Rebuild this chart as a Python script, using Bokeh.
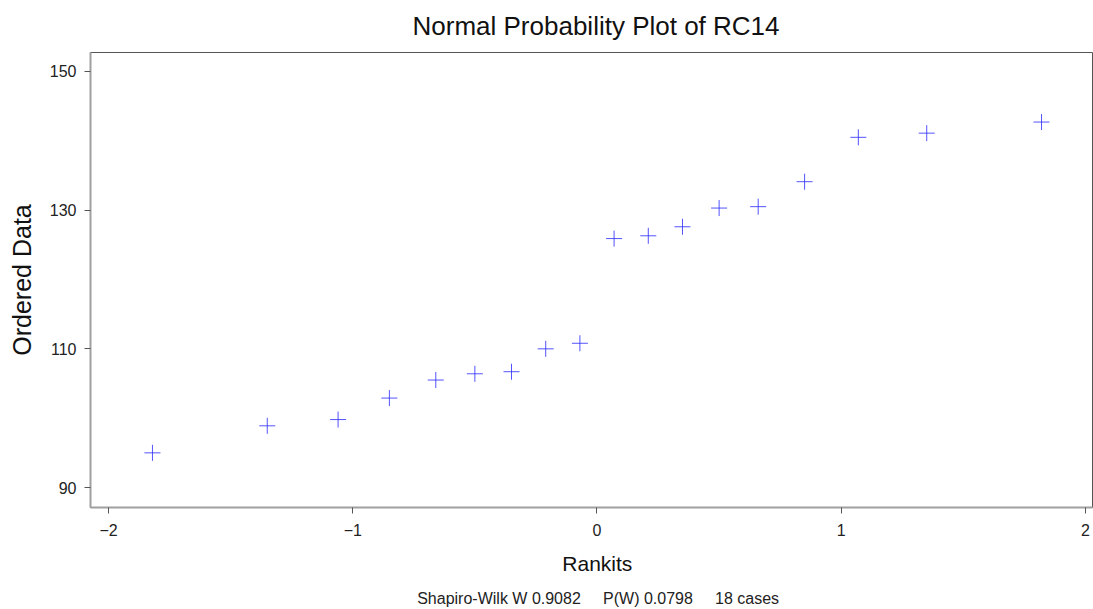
from bokeh.plotting import figure
from bokeh.models import FixedTicker, Range1d, Title, LinearAxis
from bokeh.embed import file_html
from bokeh.resources import INLINE

rankits = [-1.82, -1.35, -1.06, -0.85, -0.66, -0.50, -0.35, -0.21, -0.07,
           0.07, 0.21, 0.35, 0.50, 0.66, 0.85, 1.07, 1.35, 1.82]
ordered = [95.0, 98.9, 99.8, 102.9, 105.5, 106.4, 106.7, 110.0, 110.8,
           125.9, 126.3, 127.6, 130.3, 130.5, 134.1, 140.5, 141.1, 142.7]
x_ticks = [-2, -1, 0, 1, 2]
y_ticks = [90, 110, 130, 150]
title_text = "Normal Probability Plot of RC14"
x_label = "Rankits"
y_label = "Ordered Data"
NB = "\u00a0"
footer_text = ("Shapiro-Wilk W 0.9082" + NB * 5 + "P(W) 0.0798" + NB * 5 + "18 cases")

FONT = "Liberation Sans"

p = figure(width=1093, height=609, output_backend="svg", toolbar_location=None,
           x_range=Range1d(-2.0737, 2.0287), y_range=Range1d(87.12, 152.73),
           min_border_left=90, min_border_right=1, min_border_top=52,
           min_border_bottom=101)

p.title.text = title_text
p.title.align = "left"
p.title.offset = 322
p.title.text_font = FONT
p.title.text_font_size = "26px"
p.title.text_font_style = "normal"
p.title.text_color = "#111111"
p.title.standoff = 15

# thin spacer between title and frame
p.add_layout(Title(text=NB, text_font_size="2px", standoff=0), "above")

p.grid.visible = False
p.outline_line_color = "#555555"
p.outline_line_width = 1
p.background_fill_color = "white"
p.border_fill_color = "white"

for ax in (p.xaxis[0], p.yaxis[0]):
    ax.axis_line_color = "#a0a0a0"
    ax.axis_line_width = 2
    ax.major_tick_line_color = "#555555"
    ax.major_tick_out = 6
    ax.major_tick_in = 0
    ax.minor_tick_line_color = None
    ax.major_label_text_font = FONT
    ax.major_label_text_font_size = "16px"
    ax.major_label_text_color = "#222222"
    ax.axis_label_text_font = FONT
    ax.axis_label_text_font_style = "normal"
    ax.axis_label_text_color = "#111111"

p.xaxis.ticker = FixedTicker(ticks=x_ticks)
p.yaxis.ticker = FixedTicker(ticks=y_ticks)
p.xaxis.axis_label = NB * 2 + x_label
p.yaxis.axis_label = y_label
p.xaxis.axis_label_text_font_size = "21px"
p.yaxis.axis_label_text_font_size = "25px"
p.xaxis.major_label_standoff = 10
p.yaxis.major_label_standoff = 8
p.xaxis.axis_label_standoff = 13
p.yaxis.axis_label_standoff = 11

# footer line drawn as the label of a bare axis below the x axis
footer_axis = LinearAxis(ticker=FixedTicker(ticks=[]), axis_line_color=None,
                         major_tick_line_color=None, minor_tick_line_color=None,
                         major_tick_out=0, major_tick_in=0,
                         major_label_text_font_size="0px", major_label_standoff=0,
                         axis_label=NB * 3 + footer_text, axis_label_standoff=12,
                         axis_label_text_font=FONT, axis_label_text_font_size="16px",
                         axis_label_text_font_style="normal",
                         axis_label_text_line_height=1.0,
                         axis_label_text_color="#222222")
p.add_layout(footer_axis, "below")

p.scatter(rankits, ordered, marker="cross", size=16, line_color="#3535ff",
          line_alpha=0.85, line_width=1)

open("out.html", "w").write(file_html(p, INLINE))
